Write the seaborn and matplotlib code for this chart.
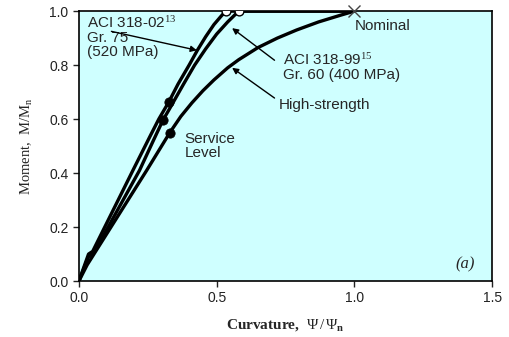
import numpy as np
import pandas as pd
import matplotlib
matplotlib.use("Agg")
import matplotlib.pyplot as plt
import seaborn as sns

# ---- data ----
aci02_x = [0.0, 0.035, 0.05, 0.196, 0.26, 0.29, 0.326, 0.36, 0.40, 0.43, 0.46, 0.49, 0.515, 0.533, 1.0]
aci02_y = [0.0, 0.10, 0.11, 0.41, 0.54, 0.60, 0.663, 0.73, 0.80, 0.855, 0.905, 0.95, 0.98, 1.0, 1.0]

aci99_x = [0.0, 0.035, 0.06, 0.22, 0.27, 0.305, 0.33, 0.38, 0.42, 0.46, 0.50, 0.54, 0.565, 0.58, 1.0]
aci99_y = [0.0, 0.09, 0.115, 0.41, 0.52, 0.596, 0.64, 0.73, 0.80, 0.86, 0.915, 0.96, 0.985, 1.0, 1.0]

hs_x = [0.0, 0.03, 0.246, 0.33, 0.37, 0.41, 0.45, 0.49, 0.54, 0.58, 0.65, 0.72, 0.79, 0.87, 0.95, 1.0]
hs_y = [0.0, 0.06, 0.41, 0.55, 0.61, 0.66, 0.705, 0.745, 0.79, 0.82, 0.865, 0.90, 0.93, 0.96, 0.985, 1.0]

service_x = [0.326, 0.305, 0.33]
service_y = [0.663, 0.596, 0.55]

yield_x = [0.533, 0.58]
yield_y = [1.0, 1.0]

nominal_x = [1.0]
nominal_y = [1.0]

x_ticks = [0.0, 0.5, 1.0, 1.5]
y_ticks = [0.0, 0.2, 0.4, 0.6, 0.8, 1.0]

# ---- plotting ----
sns.set_style("ticks")
plt.rcParams["font.family"] = ["Liberation Sans", "DejaVu Sans"]
plt.rcParams["mathtext.fontset"] = "custom"
plt.rcParams["mathtext.rm"] = "Liberation Serif"
plt.rcParams["mathtext.it"] = "Liberation Serif:italic:bold"
plt.rcParams["mathtext.bf"] = "Liberation Serif:bold"

fig = plt.figure(figsize=(5.09, 3.37), dpi=100)
ax = fig.add_axes([0.155, 0.166, 0.812, 0.801])
ax.set_facecolor("#CFFFFF")

curves = pd.concat([
    pd.DataFrame({"x": aci02_x, "y": aci02_y, "s": "aci02"}),
    pd.DataFrame({"x": aci99_x, "y": aci99_y, "s": "aci99"}),
    pd.DataFrame({"x": hs_x, "y": hs_y, "s": "hs"}),
])
sns.lineplot(data=curves, x="x", y="y", units="s", estimator=None, sort=False,
             color="black", linewidth=2.4, ax=ax, legend=False)

sns.scatterplot(x=service_x, y=service_y, color="black", s=45, marker="o",
                edgecolor="black", zorder=5, ax=ax)
sns.scatterplot(x=yield_x, y=yield_y, color="white", s=40, marker="o",
                edgecolor="black", linewidth=1, zorder=5, ax=ax)
ax.plot(nominal_x, nominal_y, marker="x", color="#444444", markersize=8,
        markeredgewidth=1, zorder=6, clip_on=False)

ax.set_xlim(0, 1.5)
ax.set_ylim(0, 1.0)
ax.set_xticks(x_ticks)
ax.set_yticks(y_ticks)
ax.set_xticklabels([f"{v:.1f}" for v in x_ticks], fontsize=10, color="#222222")
ax.set_yticklabels([f"{v:.1f}" for v in y_ticks], fontsize=10, color="#222222")
ax.tick_params(direction="out", length=4, width=1, colors="#222222")
for sp in ax.spines.values():
    sp.set_visible(True)
    sp.set_color("black")
    sp.set_linewidth(1.2)

ax.set_xlabel("Curvature,  $\\mathit{Ψ}\\,/\\,\\mathit{Ψ}_\\mathbf{n}$", fontsize=11,
              family="Liberation Serif", fontweight="bold", labelpad=8)
ax.set_ylabel(r"Moment,  M/M$_\mathrm{n}$", fontsize=10.5,
              family="Liberation Serif", labelpad=10)

fs = 11
arrow = dict(arrowstyle="-|>", color="black", lw=1, mutation_scale=9,
             shrinkA=0, shrinkB=0)
ax.text(0.03, 0.985, "ACI 318-02$^{13}$\nGr. 75\n(520 MPa)", fontsize=fs,
        va="top", ha="left", linespacing=1.0)
ax.annotate("", xy=(0.428, 0.855), xytext=(0.118, 0.925), arrowprops=arrow)

ax.text(1.0, 0.944, "Nominal", fontsize=fs, va="center", ha="left")

ax.text(0.74, 0.85, "ACI 318-99$^{15}$\nGr. 60 (400 MPa)", fontsize=fs,
        va="top", ha="left", linespacing=1.0)
ax.annotate("", xy=(0.556, 0.937), xytext=(0.71, 0.818), arrowprops=arrow)

ax.text(0.725, 0.652, "High-strength", fontsize=fs, va="center", ha="left")
ax.annotate("", xy=(0.556, 0.79), xytext=(0.71, 0.678), arrowprops=arrow)

ax.text(0.384, 0.5, "Service\nLevel", fontsize=fs, va="center", ha="left",
        linespacing=1.0)

ax.text(1.40, 0.063, "(a)", fontsize=12, style="italic",
        family="Liberation Serif", va="center", ha="center")

fig.savefig("out.png", dpi=100)
